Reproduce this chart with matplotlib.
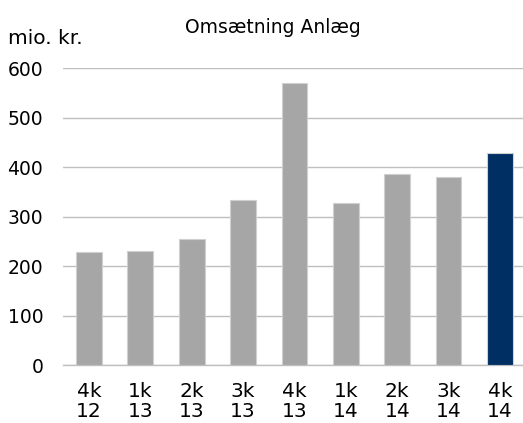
from matplotlib import pyplot as plt

quarters = ["4k\n12", "1k\n13", "2k\n13", "3k\n13", "4k\n13", "1k\n14", "2k\n14", "3k\n14", "4k\n14"]
revenue = [228, 230, 254, 333, 570, 328, 387, 380, 428]
colors = ["#A6A6A6"] * 8 + ["#003063"]

plt.rcParams["font.family"] = "DejaVu Sans"

fig = plt.figure(figsize=(5.23, 4.23), dpi=100)
ax = fig.add_axes([0.121, 0.137, 0.884, 0.7015])

x = list(range(len(quarters)))
ax.bar(x, revenue, width=0.5, color=colors, edgecolor="#D0D0D0", linewidth=0.8, zorder=3)

ax.set_xlim(-0.5, len(quarters) - 0.5)
ax.set_ylim(0, 600)
ax.set_yticks(range(0, 601, 100))
ax.set_xticks(x)
ax.set_xticklabels(quarters, fontsize=14.5, linespacing=1.1)
ax.tick_params(axis="y", labelsize=13.5, length=0, pad=14.5)
ax.tick_params(axis="x", length=0, pad=12)

ax.grid(axis="y", color="#BFBFBF", linewidth=1, zorder=0)
for side in ["top", "right", "left"]:
    ax.spines[side].set_visible(False)
ax.spines["bottom"].set_color("#BFBFBF")
ax.spines["bottom"].set_linewidth(1)

fig.text(0.521, 0.935, "Omsætning Anlæg", ha="center", va="center", fontsize=13.5)
fig.text(0.015, 0.908, "mio. kr.", ha="left", va="center", fontsize=14.5)

plt.savefig("out.png", dpi=100)
